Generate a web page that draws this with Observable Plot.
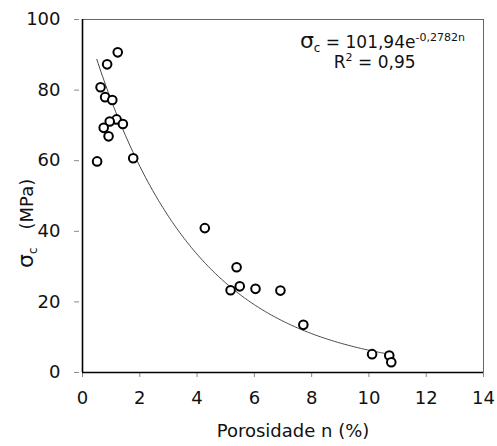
<!DOCTYPE html>
<html><head><meta charset="utf-8">
<script src="https://cdn.jsdelivr.net/npm/d3@7"></script>
<script src="https://cdn.jsdelivr.net/npm/@observablehq/plot@0.6"></script>
<style>
body{margin:0;background:#fff}
#chart svg{font-family:"DejaVu Sans",sans-serif}
</style>
</head><body><div id="chart"></div>
<script>
// Data
const porosity = [1.23, 0.86, 0.63, 0.79, 1.04, 1.19, 0.95, 1.41, 0.74, 0.91, 0.51, 1.77,
                  4.27, 5.38, 5.17, 5.49, 6.04, 6.91, 7.71, 10.11, 10.71, 10.78];
const strength = [90.7, 87.3, 80.8, 78.0, 77.2, 71.7, 71.1, 70.4, 69.3, 66.9, 59.8, 60.7,
                  40.9, 29.8, 23.3, 24.4, 23.7, 23.2, 13.5, 5.2, 4.8, 2.9];
const xTicks = [0, 2, 4, 6, 8, 10, 12, 14];
const yTicks = [0, 20, 40, 60, 80, 100];
// Fitted model as printed on the chart: σc = 101,94 e^(-0,2782 n), R² = 0,95
const fitA = 101.94, fitB = 0.2782;
const fitFrom = 0.5, fitTo = 10.7;
const xLabel = "Porosidade n (%)";
const eq1 = [["σ", "big"], ["c", "sub"], [" = 101,94e", ""], ["-0,2782n", "sup"]];
const eq2 = [["R", ""], ["2", "sup"], [" = 0,95", ""]];
const yLabel = [["σ", "big"], ["c", "sub"], ["(MPa)", "gap"]];

const points = porosity.map((n, i) => ({n, s: strength[i]}));
const fitN = d3.range(fitFrom, fitTo + 1e-9, 0.05);
const fit = fitN.map(n => ({n, s: fitA * Math.exp(-fitB * n)}));
const labels = [
  {id: "eq1", n: 10.47, s: 93.6},
  {id: "eq2", n: 10.2, s: 87.7}
];

const chart = Plot.plot({
  width: 497, height: 446,
  marginLeft: 82, marginRight: 14, marginTop: 19, marginBottom: 74,
  style: {fontSize: "18px", color: "#111", background: "#fff"},
  x: {domain: [0, 14], ticks: xTicks, label: null},
  y: {domain: [0, 100], ticks: yTicks, label: null},
  marks: [
    Plot.frame({stroke: "#666", strokeWidth: 1}),
    Plot.axisX({ticks: xTicks, tickSize: 5, tickPadding: 14, stroke: "#888", label: null, fontSize: 18}),
    Plot.axisY({ticks: yTicks, tickSize: 5, tickPadding: 14, dx: -3, stroke: "#888", label: null, fontSize: 18}),
    Plot.ruleX([0], {stroke: "#000", strokeWidth: 1.6}),
    Plot.ruleY([0], {stroke: "#000", strokeWidth: 1.6}),
    Plot.line(fit, {x: "n", y: "s", stroke: "#333", strokeWidth: 0.9}),
    Plot.dot(points, {x: "n", y: "s", r: 4.3, stroke: "#000", strokeWidth: 2, fill: "#fff"}),
    Plot.text(labels, {x: "n", y: "s", text: "id", textAnchor: "middle", fontSize: 17, fill: "#111"}),
    Plot.text(["ylab"], {frameAnchor: "left", dx: -55, dy: 72, rotate: -90, text: d => d, fontSize: 18, fill: "#111"}),
    Plot.text([xLabel], {frameAnchor: "bottom", dx: 10, dy: 64, text: d => d, fontSize: 18, fill: "#111"})
  ]
});

function rich(textEl, segs) {
  const t = d3.select(textEl);
  t.text(null);
  let shift = 0;
  for (const [str, kind] of segs) {
    const ts = t.append("tspan").text(str);
    let target = 0;
    if (kind === "sub") { ts.attr("font-size", "12px"); target = 4; }
    else if (kind === "sup") { ts.attr("font-size", "11px"); target = -7; }
    else if (kind === "big") { ts.attr("font-size", "22px"); }
    else if (kind === "gap") { ts.attr("dx", 18); }
    ts.attr("dy", target - shift);
    shift = target;
  }
}
d3.select(chart).selectAll("text").each(function() {
  const c = this.textContent;
  if (c === "eq1") rich(this, eq1);
  else if (c === "eq2") rich(this, eq2);
  else if (c === "ylab") rich(this, yLabel);
});

document.getElementById("chart").append(chart);
</script>
</body></html>
